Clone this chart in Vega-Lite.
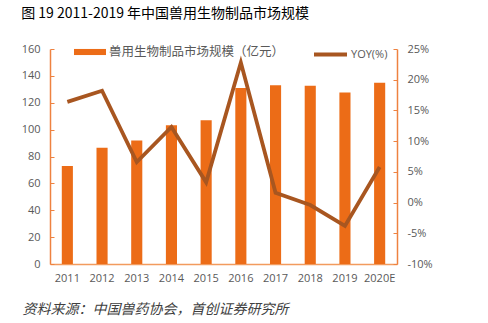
{
  "$schema": "https://vega.github.io/schema/vega-lite/v6.json",
  "width": 347,
  "height": 215,
  "autosize": {"type": "none"},
  "padding": {"left": 50, "top": 49, "right": 91, "bottom": 59},
  "background": "white",
  "title": {
    "text": "图 19 2011-2019 年中国兽用生物制品市场规模",
    "anchor": "start",
    "frame": "bounds",
    "font": "Noto Sans CJK SC",
    "fontSize": 14,
    "fontWeight": "normal",
    "color": "#000000",
    "offset": 15
  },
  "config": {
    "view": {"stroke": null},
    "font": "Noto Sans CJK SC"
  },
  "data": {
    "values": [
      {"year": "2011", "value": 73, "yoy": 16.4},
      {"year": "2012", "value": 86.5, "yoy": 18.2},
      {"year": "2013", "value": 92, "yoy": 6.6},
      {"year": "2014", "value": 103.2, "yoy": 12.3},
      {"year": "2015", "value": 107, "yoy": 3.3},
      {"year": "2016", "value": 131, "yoy": 22.8},
      {"year": "2017", "value": 133.1, "yoy": 1.6},
      {"year": "2018", "value": 132.6, "yoy": -0.4},
      {"year": "2019", "value": 127.6, "yoy": -3.8},
      {"year": "2020E", "value": 134.8, "yoy": 5.8}
    ]
  },
  "encoding": {
    "x": {
      "field": "year",
      "type": "ordinal",
      "sort": null,
      "scale": {"paddingInner": 0.68, "paddingOuter": 0.34},
      "axis": {
        "labelAngle": 0,
        "labelFont": "Open Sans",
        "labelFontSize": 11,
        "labelColor": "#595959",
        "labelPadding": 8,
        "ticks": false,
        "domainColor": "#F29B5E",
        "domainWidth": 1.5,
        "title": "资料来源：中国兽药协会，首创证券研究所",
        "titleFont": "Noto Sans CJK SC",
        "titleFontStyle": "italic",
        "titleFontWeight": "normal",
        "titleFontSize": 14,
        "titleColor": "#404040",
        "titleAnchor": "start",
        "titleAlign": "left",
        "titleBaseline": "alphabetic",
        "titleX": -28,
        "titleY": 49
      }
    }
  },
  "layer": [
    {
      "mark": {"type": "bar"},
      "encoding": {
        "y": {
          "field": "value",
          "type": "quantitative",
          "scale": {"domain": [0, 160], "nice": false},
          "axis": {
            "title": null,
            "values": [0, 20, 40, 60, 80, 100, 120, 140, 160],
            "grid": false,
            "labelFont": "Open Sans",
            "labelFontSize": 11,
            "labelColor": "#595959",
            "domainColor": "#EE8240",
            "domainWidth": 1.5,
            "tickColor": "#EE8240",
            "tickSize": -4,
            "labelPadding": 14
          }
        },
        "color": {
          "datum": "兽用生物制品市场规模（亿元）",
          "scale": {"range": ["#EC6C17"]},
          "legend": {
            "title": null,
            "orient": "none",
            "legendX": 24,
            "legendY": -13,
            "symbolType": "M-1,-0.19H1V0.19H-1Z",
            "symbolSize": 1024,
            "symbolStrokeWidth": 0,
            "labelFont": "Noto Sans CJK SC",
            "labelFontSize": 12.5,
            "labelColor": "#595959",
            "labelOffset": 3,
            "labelLimit": 400
          }
        }
      }
    },
    {
      "mark": {"type": "line", "strokeWidth": 3.8, "strokeJoin": "miter"},
      "encoding": {
        "y": {
          "field": "yoy",
          "type": "quantitative",
          "scale": {"domain": [-10, 25], "nice": false},
          "axis": {
            "orient": "right",
            "title": null,
            "values": [-10, -5, 0, 5, 10, 15, 20, 25],
            "labelExpr": "datum.value + '%'",
            "grid": false,
            "labelFont": "Open Sans",
            "labelFontSize": 11,
            "labelColor": "#595959",
            "domainColor": "#EE8240",
            "domainWidth": 1.5,
            "tickColor": "#EE8240",
            "tickSize": -4,
            "labelPadding": 14
          }
        },
        "stroke": {
          "datum": "YOY(%)",
          "scale": {"range": ["#A85620"]},
          "legend": {
            "title": null,
            "orient": "none",
            "legendX": 262,
            "legendY": -13,
            "symbolType": "stroke",
            "symbolSize": 1089,
            "symbolStrokeWidth": 4,
            "labelFont": "Open Sans",
            "labelFontSize": 11,
            "labelColor": "#595959",
            "labelOffset": 2,
            "labelLimit": 200
          }
        }
      }
    }
  ],
  "resolve": {"scale": {"y": "independent"}}
}
